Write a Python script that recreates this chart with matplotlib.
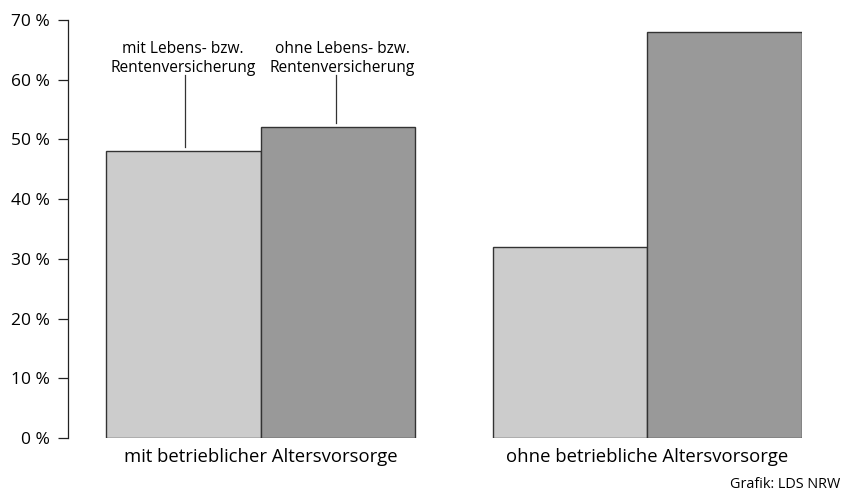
import numpy as np
import matplotlib
matplotlib.use('Agg')
import matplotlib.pyplot as plt

plt.rcParams['font.family'] = ['Open Sans', 'DejaVu Sans']

# Anteile in Prozent
gruppen = ['mit betrieblicher Altersvorsorge', 'ohne betriebliche Altersvorsorge']
mit_lv = [48, 32]
ohne_lv = [52, 68]
reihen = ['mit Lebens- bzw.\nRentenversicherung', 'ohne Lebens- bzw.\nRentenversicherung']
y_ticks = [0, 10, 20, 30, 40, 50, 60, 70]

hell = '#cccccc'
dunkel = '#999999'

fig = plt.figure(figsize=(8.51, 4.98), dpi=100)
ax = fig.add_axes([68 / 851, 60 / 498, (802 - 68) / 851, (438 - 20) / 498])

x = np.array([0, 2.5])
ax.bar(x - 0.5, mit_lv, width=1.0, color=hell, edgecolor='#333333', linewidth=1.0)
ax.bar(x + 0.5, ohne_lv, width=1.0, color=dunkel, edgecolor='#333333', linewidth=1.0)

ax.set_xlim(-1.245, 3.5)
ax.set_ylim(0, 70)
ax.set_yticks(y_ticks)
ax.set_yticklabels([f'{v} %' for v in y_ticks], fontsize=12.5)
ax.tick_params(axis='y', length=7.2, width=0.9, pad=6, color='#222222')
ax.set_xticks(x)
ax.set_xticklabels(gruppen, fontsize=13.3)
ax.tick_params(axis='x', length=0, pad=7)

for s in ['top', 'right', 'bottom']:
    ax.spines[s].set_visible(False)
ax.spines['left'].set_linewidth(0.9)
ax.spines['left'].set_color('#222222')

# Beschriftung der beiden Reihen an der ersten Gruppe
linien_x = [x[0] - 0.49, x[0] + 0.49]
text_x = [x[0] - 0.5, x[0] + 0.53]
for lx, tx, wert, txt in zip(linien_x, text_x, [mit_lv[0], ohne_lv[0]], reihen):
    ax.plot([lx, lx], [wert + 0.8, 60.8], color='#333333', lw=0.9)
    ax.text(tx, 60.6, txt, ha='center', va='bottom', fontsize=11.2, linespacing=1.3)

fig.text(840 / 851, 1 - 484 / 498, 'Grafik: LDS NRW', ha='right', va='center', fontsize=10.4)

fig.savefig('out.png', dpi=100)
